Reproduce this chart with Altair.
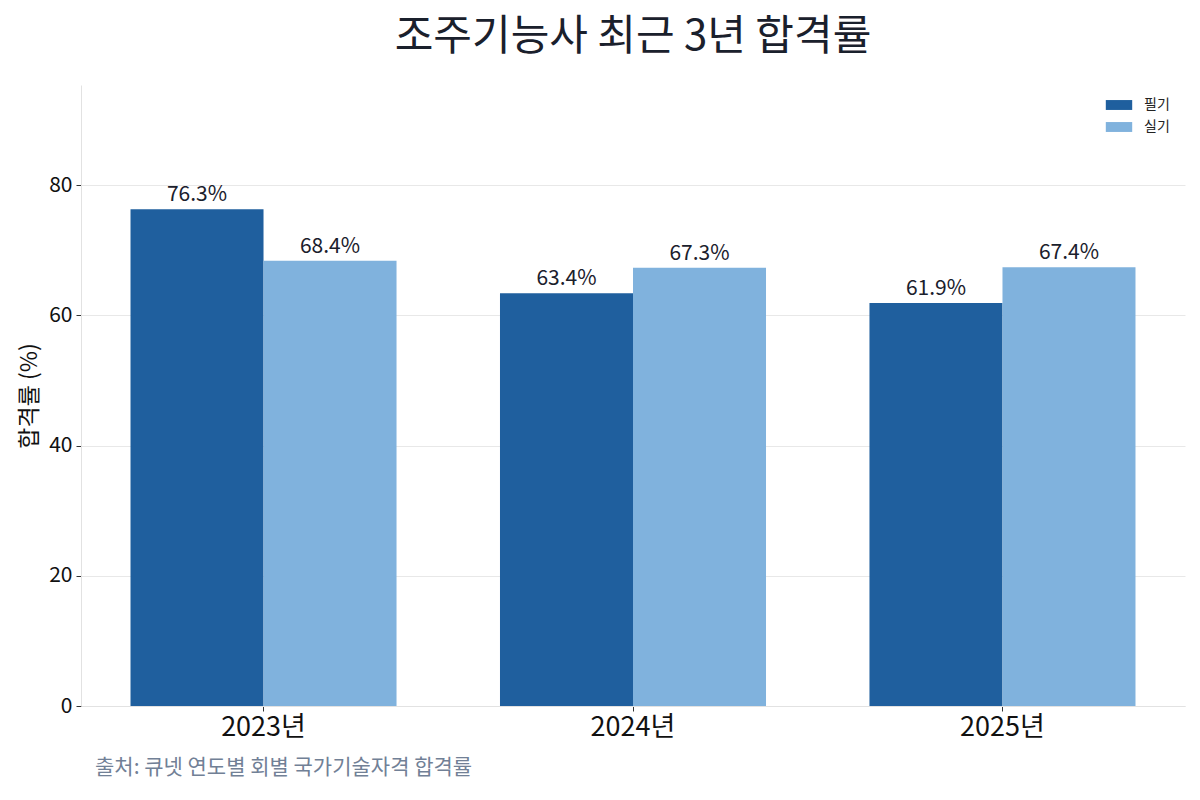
import altair as alt
import pandas as pd

FONT = "Noto Sans CJK KR"
INK = "#1a202c"
WRITTEN_COLOR = "#1f5f9e"
PRACTICAL_COLOR = "#80b2dd"

years = ["2023년", "2024년", "2025년"]
written = [76.3, 63.4, 61.9]
practical = [68.4, 67.3, 67.4]
series = ["필기", "실기"]
source_note = "출처: 큐넷 연도별 회별 국가기술자격 합격률"

rows = []
for year, w, p in zip(years, written, practical):
    rows.append({"year": year, "exam": series[0], "rate": w})
    rows.append({"year": year, "exam": series[1], "rate": p})
df = pd.DataFrame(rows)
df["label"] = df["rate"].map(lambda v: f"{v:.1f}%")

y_max = max(written + practical) * 1.25

x_enc = alt.X(
    "year:N",
    sort=years,
    title=None,
    scale=alt.Scale(paddingInner=0.28, paddingOuter=0.134),
    axis=alt.Axis(
        labelAngle=0,
        labelFontSize=27,
        labelColor="#111111",
        labelPadding=3,
        tickColor="#333333",
        tickSize=5,
        domainColor="#e2e2e2",
        grid=False,
    ),
)
offset_enc = alt.XOffset("exam:N", sort=series)
y_enc = alt.Y(
    "rate:Q",
    title="합격률 (%)",
    scale=alt.Scale(domain=[0, y_max], nice=False),
    axis=alt.Axis(
        values=[0, 20, 40, 60, 80],
        labelFontSize=21,
        labelColor="#111111",
        labelPadding=4,
        tickColor="#333333",
        tickSize=5,
        domainColor="#e2e2e2",
        gridColor="#e8e8e8",
        titleFontSize=23,
        titleFontWeight="normal",
        titleColor="#111111",
        titlePadding=7,
    ),
)

base = alt.Chart(df).encode(x=x_enc, xOffset=offset_enc)

bars = base.mark_bar().encode(
    y=y_enc,
    color=alt.Color(
        "exam:N",
        sort=series,
        scale=alt.Scale(domain=series, range=[WRITTEN_COLOR, PRACTICAL_COLOR]),
        legend=alt.Legend(
            title=None,
            orient="none",
            legendX=1027,
            legendY=9,
            padding=0,
            symbolType="M-1.2,-0.45H1.2V0.45H-1.2Z",
            symbolSize=484,
            symbolStrokeWidth=0,
            labelFontSize=14,
            labelColor="#222222",
            labelOffset=14,
            rowPadding=4,
        ),
    ),
)

labels = base.mark_text(baseline="bottom", dy=-4, fontSize=21, color=INK, font=FONT).encode(
    y="rate:Q",
    text="label:N",
)

note = alt.Chart(pd.DataFrame({"note": [source_note]})).mark_text(
    align="left", baseline="middle", fontSize=21, color="#718096", font=FONT
).encode(x=alt.value(14), y=alt.value(683), text="note:N")

chart = (
    alt.layer(bars, labels, note)
    .properties(
        width=1104,
        height=621,
        title=alt.TitleParams(
            "조주기능사 최근 3년 합격률",
            fontSize=42,
            lineHeight=42,
            fontWeight="normal",
            color=INK,
            anchor="middle",
            offset=26,
        ),
        autosize=alt.AutoSizeParams(type="none"),
        padding={"left": 73, "top": 77, "right": 7, "bottom": 86},
    )
    .configure(font=FONT)
    .configure_view(stroke=None)
)

chart.save("out.html", embed_options={"renderer": "svg", "actions": False})
